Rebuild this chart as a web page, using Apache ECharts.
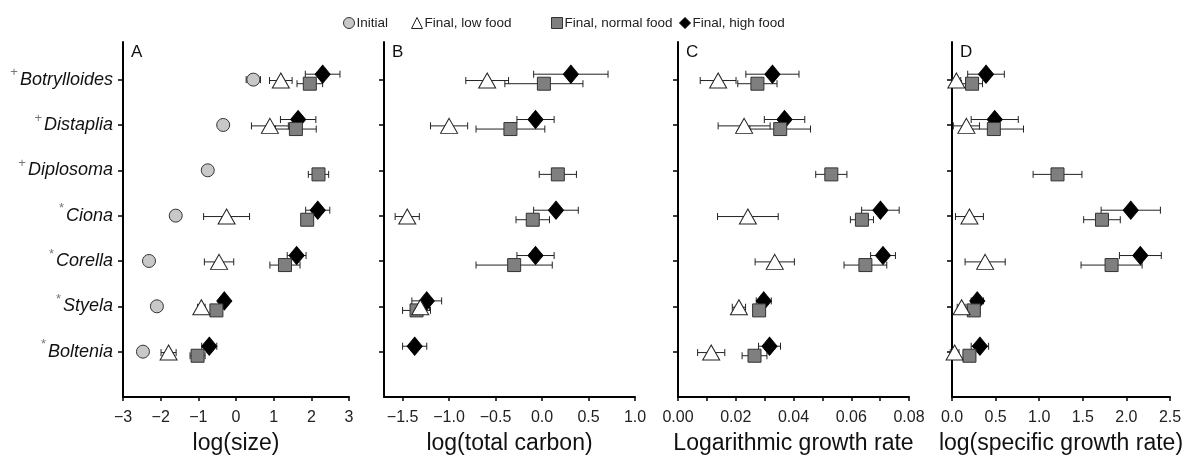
<!DOCTYPE html>
<html><head><meta charset="utf-8">
<script src="https://cdn.jsdelivr.net/npm/echarts@6/dist/echarts.min.js"></script>
<style>html,body{margin:0;padding:0;background:#fff}#c{width:1194px;height:458px}</style>
</head><body><div id="c"></div>
<script>
const species = ['Botrylloides','Distaplia','Diplosoma','Ciona','Corella','Styela','Boltenia'];
const speciesMark = ['+','+','+','*','*','*','*'];
const treatments = ['Initial','Final, low food','Final, normal food','Final, high food'];

// Panel A: log(size)
const sizeInitial = [0.46, -0.34, -0.75, -1.60, -2.31, -2.10, -2.47];
const sizeInitialErr = [0.19, 0.05, 0.05, 0.05, 0.05, 0.05, 0.05];
const sizeLow = [1.19, 0.90, null, -0.25, -0.45, -0.92, -1.79];
const sizeLowErr = [0.30, 0.49, null, 0.61, 0.39, 0.10, 0.20];
const sizeNormal = [1.96, 1.59, 2.19, 1.89, 1.30, -0.52, -1.02];
const sizeNormalErr = [0.34, 0.54, 0.27, 0.15, 0.40, 0.10, 0.20];
const sizeHigh = [2.30, 1.65, null, 2.17, 1.61, -0.31, -0.71];
const sizeHighErr = [0.46, 0.47, null, 0.32, 0.25, 0.10, 0.20];

// Panel B: log(total carbon)
const carbonLow = [-0.59, -1.00, null, -1.45, null, -1.31, null];
const carbonLowErr = [0.23, 0.20, null, 0.13, null, 0.10, null];
const carbonNormal = [0.02, -0.34, 0.17, -0.10, -0.30, -1.35, null];
const carbonNormalErr = [0.42, 0.37, 0.20, 0.18, 0.41, 0.15, null];
const carbonHigh = [0.31, -0.07, null, 0.15, -0.07, -1.24, -1.37];
const carbonHighErr = [0.40, 0.20, null, 0.24, 0.20, 0.16, 0.13];

// Panel C: logarithmic growth rate
const growthLow = [0.0139, 0.0229, null, 0.0242, 0.0335, 0.0211, 0.0115];
const growthLowErr = [0.0062, 0.0090, null, 0.0105, 0.0068, 0.0023, 0.0047];
const growthNormal = [0.0275, 0.0354, 0.0531, 0.0637, 0.0649, 0.0281, 0.0265];
const growthNormalErr = [0.0068, 0.0105, 0.0054, 0.0040, 0.0074, 0.0020, 0.0043];
const growthHigh = [0.0327, 0.0369, null, 0.0701, 0.0710, 0.0297, 0.0317];
const growthHighErr = [0.0092, 0.0070, null, 0.0065, 0.0043, 0.0026, 0.0038];

// Panel D: log(specific growth rate)
const sgrLow = [0.05, 0.165, null, 0.20, 0.38, 0.11, 0.03];
const sgrLowErr = [0.05, 0.15, null, 0.16, 0.23, 0.05, 0.05];
const sgrNormal = [0.23, 0.48, 1.21, 1.72, 1.83, 0.25, 0.20];
const sgrNormalErr = [0.12, 0.34, 0.28, 0.21, 0.35, 0.07, 0.07];
const sgrHigh = [0.39, 0.49, null, 2.05, 2.16, 0.29, 0.32];
const sgrHighErr = [0.21, 0.27, null, 0.34, 0.24, 0.07, 0.10];

const ticksA = [-3,-2,-1,0,1,2,3];
const ticksB = [-1.5,-1.0,-0.5,0,0.5,1.0];
const ticksC = [0,0.02,0.04,0.06,0.08];
const minorC = [0,0.01,0.02,0.03,0.04,0.05,0.06,0.07,0.08];
const ticksD = [0,0.5,1.0,1.5,2.0,2.5];

const FONT = 'Liberation Sans, Arial, Helvetica, sans-serif';
const styles = [
  {symbol:'circle', size:13, color:'#c8c8c8', border:'#333', off:0},
  {symbol:'triangle', size:[17,15], color:'#ffffff', border:'#222', off:-0.02},
  {symbol:'rect', size:13, color:'#7f7f7f', border:'#333', off:-0.09},
  {symbol:'diamond', size:[15,18], color:'#000000', border:'#000', off:0.12}
];
const legendLefts = [338, 406, 546, 674];

const panels = [
  {left:123, width:226, min:-3, max:3, ticks:ticksA, tickVals:ticksA, dec:0, name:'log(size)', letter:'A',
   sets:[[sizeInitial,sizeInitialErr],[sizeLow,sizeLowErr],[sizeNormal,sizeNormalErr],[sizeHigh,sizeHighErr]]},
  {left:384, width:251, min:-1.7, max:1.0, ticks:ticksB, tickVals:ticksB, dec:1, name:'log(total carbon)', letter:'B',
   sets:[null,[carbonLow,carbonLowErr],[carbonNormal,carbonNormalErr],[carbonHigh,carbonHighErr]]},
  {left:678, width:231, min:0, max:0.08, ticks:ticksC, tickVals:minorC, dec:2, name:'Logarithmic growth rate', letter:'C',
   sets:[null,[growthLow,growthLowErr],[growthNormal,growthNormalErr],[growthHigh,growthHighErr]]},
  {left:952, width:218, min:0, max:2.5, ticks:ticksD, tickVals:ticksD, dec:1, name:'log(specific growth rate)', letter:'D',
   sets:[null,[sgrLow,sgrLowErr],[sgrNormal,sgrNormalErr],[sgrHigh,sgrHighErr]]}
];

const grids = [], xAxes = [], yAxes = [], series = [], titles = [];
const yVals = [1,2,3,4,5,6,7];
panels.forEach((p, k) => {
  grids.push({left:p.left, width:p.width, top:42, bottom:61, outerBoundsMode:'none', containLabel:false});
  titles.push({text:p.letter, left:p.left+8, top:44, padding:0,
    textStyle:{fontFamily:FONT, fontSize:17, fontWeight:'normal', color:'#111'}});
  xAxes.push({type:'value', gridIndex:k, min:p.min, max:p.max,
    name:p.name, nameLocation:'middle', nameGap:35,
    nameTextStyle:{fontFamily:FONT, fontSize:23, color:'#111'},
    axisLine:{show:true, onZero:false, lineStyle:{color:'#000', width:2}},
    axisTick:{show:true, length:4, customValues:p.tickVals, lineStyle:{color:'#000', width:1.5}},
    axisLabel:{customValues:p.ticks, margin:13, fontFamily:FONT, fontSize:16, color:'#222',
      formatter: v => (Number(v).toFixed(p.dec)).replace('-', '\u2212')},
    splitLine:{show:false}});
  yAxes.push({type:'value', gridIndex:k, min:0, max:7.83,
    axisLine:{show:true, onZero:false, lineStyle:{color:'#000', width:2}},
    axisTick:{show:true, length:5, customValues:yVals, lineStyle:{color:'#000', width:1.5}},
    axisLabel: k === 0 ? {show:true, customValues:yVals, margin:10,
      formatter: v => { const i = 7 - Math.round(v); return '{sup|' + speciesMark[i] + '}{nm|' + species[i] + '}'; },
      rich:{
        sup:{fontFamily:FONT, fontSize:13, color:'#777', padding:[0,2,14,0]},
        nm:{fontFamily:FONT, fontSize:18, fontStyle:'italic', color:'#111'}
      }} : {show:false},
    splitLine:{show:false}});

  // error bars first
  p.sets.forEach((s, t) => {
    if (!s) return;
    const [means, errs] = s;
    const data = [];
    means.forEach((m, i) => { if (m !== null) data.push([m, 7 - i + styles[t].off, errs[i]]); });
    series.push({type:'custom', name:'err'+k+t, xAxisIndex:k, yAxisIndex:k, z:1, silent:true,
      encode:{x:0, y:1},
      renderItem: (params, api) => {
        const m = api.value(0), y = api.value(1), e = api.value(2);
        const a = api.coord([m - e, y]), b = api.coord([m + e, y]);
        const h = 3.5, st = {stroke:'#222', lineWidth:1};
        return {type:'group', children:[
          {type:'line', shape:{x1:a[0], y1:a[1], x2:b[0], y2:b[1]}, style:st},
          {type:'line', shape:{x1:a[0], y1:a[1]-h, x2:a[0], y2:a[1]+h}, style:st},
          {type:'line', shape:{x1:b[0], y1:b[1]-h, x2:b[0], y2:b[1]+h}, style:st}
        ]};
      },
      data});
  });
  // markers: diamond, square, triangle, circle
  [3,2,1,0].forEach((t, order) => {
    const s = p.sets[t];
    if (!s) return;
    const st = styles[t];
    const data = [];
    s[0].forEach((m, i) => { if (m !== null) data.push([m, 7 - i + st.off]); });
    series.push({type:'scatter', name:treatments[t], xAxisIndex:k, yAxisIndex:k, z:3+order,
      symbol:st.symbol, symbolSize:st.size,
      itemStyle:{color:st.color, borderColor:st.border, borderWidth:1, opacity:1},
      emphasis:{disabled:true}, data});
  });
});

const legends = treatments.map((name, t) => ({
  data:[name], left:legendLefts[t], top:11, itemWidth:11, itemHeight:11,
  textStyle:{fontFamily:FONT, fontSize:13.5, color:'#222', padding:[0,0,0,-3]},
  itemStyle:{borderWidth:1}
}));

const chart = echarts.init(document.getElementById('c'), null, {renderer:'canvas'});
chart.setOption({
  animation:false,
  title:titles,
  legend:legends,
  grid:grids, xAxis:xAxes, yAxis:yAxes, series
});
</script></body></html>
